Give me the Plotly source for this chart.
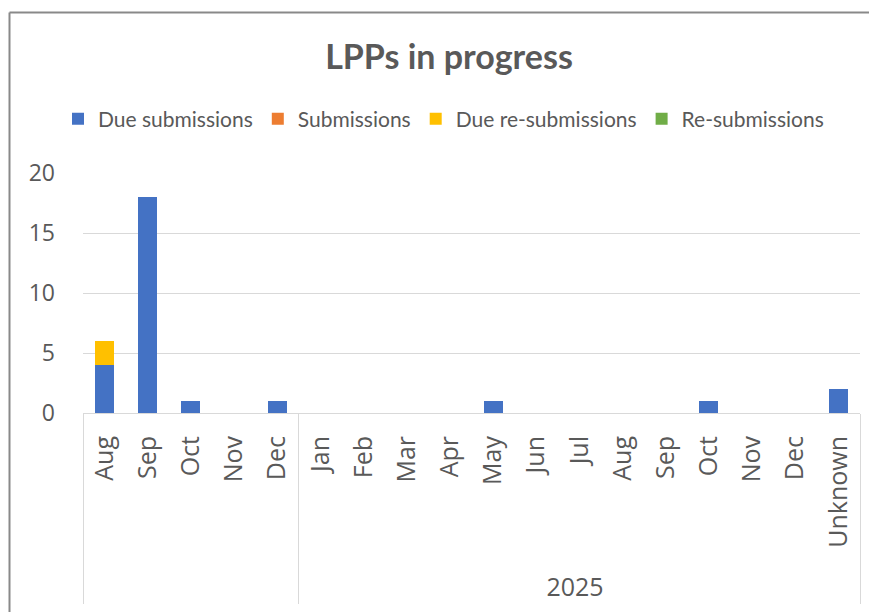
import plotly.graph_objects as go

ZW = "\u200b"
NB = "\u00a0"
years = [" ", " ", " ", " ", " ", "2025", "2025", "2025", "2025", "2025", "2025", "2025",
         "2025", "2025", "2025", "2025", "2025", "2025"]
months = ["Aug", "Sep", "Oct", "Nov", "Dec", "Jan", "Feb", "Mar", "Apr", "May", "Jun",
          "Jul", "Aug", "Sep", "Oct", "Nov", "Dec", "Unknown"]
# make repeated month labels unique so the category order is preserved
month_keys = [m + (ZW if y == "2025" else "") for y, m in zip(years, months)]
month_keys[-1] = NB + NB + month_keys[-1]

due_submissions = [4, 18, 1, 0, 1, 0, 0, 0, 0, 1, 0, 0, 0, 0, 1, 0, 0, 2]
submissions = [0] * 18
due_resubmissions = [2, 0, 0, 0, 0, 0, 0, 0, 0, 0, 0, 0, 0, 0, 0, 0, 0, 0]
resubmissions = [0] * 18

series = [
    ("Due submissions", due_submissions, "#4472C4"),
    ("Submissions", submissions, "#ED7D31"),
    ("Due re-submissions", due_resubmissions, "#FFC000"),
    ("Re-submissions", resubmissions, "#70AD47"),
]

FONT = "Lato"
TICKFONT = "Open Sans"
GREY = "#595959"
OFF = 8  # page offset of the figure

L, R = 83 - OFF, 877 - (860 - OFF)
T = 173 - OFF
B = 612 - (413 - OFF)
PW = 877 - L - R
PH = 612 - T - B

fig = go.Figure()
for name, vals, col in series:
    fig.add_trace(go.Bar(x=[years, month_keys], y=vals, name=name,
                         marker=dict(color=col, line=dict(width=0))))

bx = (9.5 - OFF - L) / PW
by = ((413 - OFF) - (12.5 - OFF)) / PH
fig.update_layout(
    barmode="stack",
    bargap=0.56,
    width=877, height=612,
    margin=dict(l=L, r=R, t=T, b=B, autoexpand=False),
    paper_bgcolor="white", plot_bgcolor="white",
    font=dict(family=FONT, color=GREY),
    title=dict(text="<b>LPPs in progress</b>", x=(449 - OFF) / 877, xanchor="center",
               y=1 - (57 - OFF) / 612, yanchor="middle",
               font=dict(size=34, color=GREY, family=FONT)),
    legend=dict(orientation="h", xref="paper", x=(50 - L) / PW, xanchor="left",
                yref="paper", y=((413 - OFF) - (119 - OFF)) / PH, yanchor="middle",
                font=dict(size=21, color=GREY, family=FONT),
                itemwidth=30, traceorder="normal", bgcolor="rgba(0,0,0,0)"),
    yaxis=dict(range=[0, 20], dtick=5, showgrid=True, gridcolor="#D9D9D9",
               gridwidth=1, zeroline=False, showline=False,
               tickfont=dict(size=23, color=GREY, family=TICKFONT), ticks="",
               ticklabelstandoff=27, automargin=False),
    xaxis=dict(type="multicategory", tickangle=-90, showline=True,
               linecolor="#D9D9D9", linewidth=1, ticks="",
               showdividers=True, dividercolor="#D9D9D9", dividerwidth=1,
               tickfont=dict(size=25, color=GREY, family=TICKFONT),
               ticklabelstandoff=12, automargin=False),
    shapes=[
        dict(type="line", xref="paper", yref="paper", x0=bx, x1=bx, y0=-2, y1=by,
             line=dict(color="#898989", width=2), layer="below"),
        dict(type="line", xref="paper", yref="paper", x0=bx, x1=2, y0=by, y1=by,
             line=dict(color="#898989", width=2), layer="below"),
    ],
)

fig.write_html("out.html")
